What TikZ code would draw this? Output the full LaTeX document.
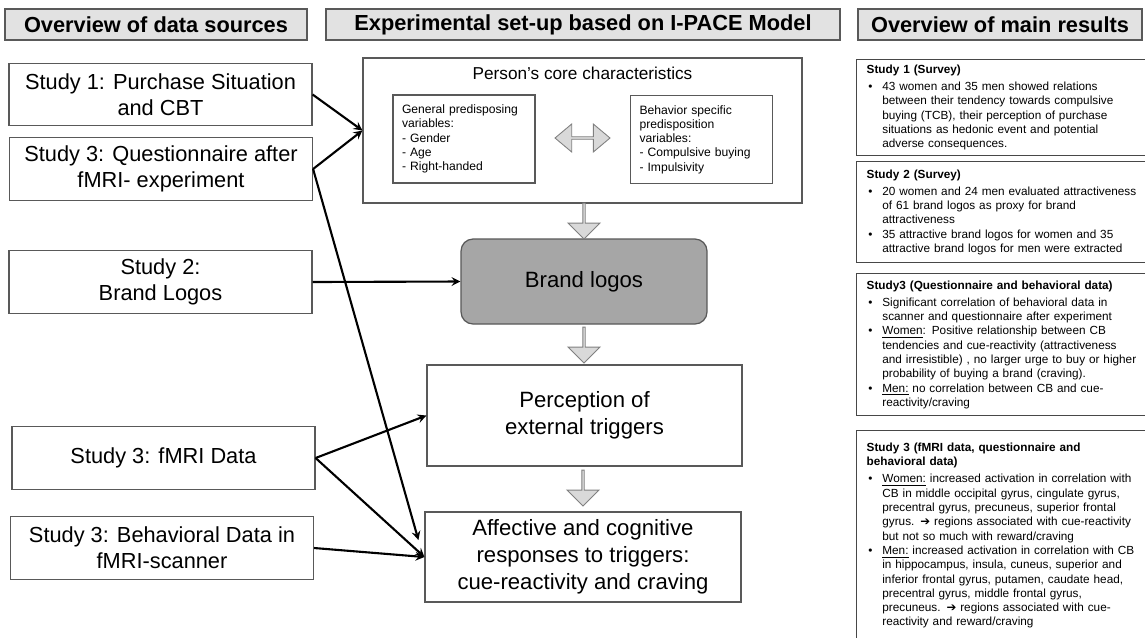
\documentclass[tikz,border=0pt]{standalone}
\usepackage{fontspec}
\setmainfont{Liberation Sans}
\newfontfamily\symfont{DejaVu Sans}
\usetikzlibrary{shapes.arrows}
\definecolor{headgray}{HTML}{E2E2E2}
\definecolor{linegray}{HTML}{595959}
\definecolor{arrowgray}{HTML}{D9D9D9}
\definecolor{logogray}{HTML}{A6A6A6}
\newcommand{\bul}{\makebox[1.33em][l]{\hspace{0.15em}\textbullet}}
\newcommand{\ind}{\hspace*{1.33em}}
\newcommand{\arr}{{\symfont\char"2794}}
\begin{document}
\begin{tikzpicture}[x=0.02cm, y=-0.02cm, >=stealth,
    headbox/.style={draw=linegray, fill=headgray, line width=0.7pt, minimum height=0.62cm, inner sep=0pt, font=\bfseries\fontsize{12.4}{14}\selectfont},
    srcbox/.style={draw=linegray, line width=0.7pt, minimum width=6.06cm, minimum height=1.25cm, align=center, inner sep=0pt, font=\fontsize{12.4}{14.8}\selectfont},
    stagebox/.style={draw=linegray, line width=0.7pt, align=center, inner sep=0pt, font=\fontsize{12.6}{15.3}\selectfont},
    varbox/.style={draw=linegray, line width=0.6pt, text width=2.48cm, inner xsep=0.18cm, inner ysep=0pt, minimum height=1.76cm, align=left, font=\fontsize{6.9}{8.1}\selectfont},
    resbox/.style={draw=linegray!80!black, line width=0.8pt, anchor=north west, text width=5.8cm, inner xsep=0.2cm, inner ysep=0pt, align=left, font=\fontsize{6.7}{8.15}\selectfont},
    downarrow/.style={single arrow, draw=gray, fill=arrowgray, line width=0.5pt, shape border rotate=270, minimum height=0.72cm, minimum width=0.64cm, single arrow head extend=0.11cm, inner sep=0pt},
    link/.style={->, line width=1.2pt}]
    \path[use as bounding box, fill=white] (0,0) rectangle (1145,637);
    \clip (0,0) rectangle (1145,637);

    % column heads
    \node[headbox, minimum width=6.04cm] (hsrc) at (156,24.5) {Overview of data sources};
    \node[headbox, minimum width=10.28cm] (hsetup) at (583,24.5) {Experimental set-up based on I-PACE Model};
    \node[headbox, minimum width=5.68cm] (hres) at (1000,24.5) {Overview of main results};

    % data sources
    \node[srcbox] (s1) at (160.5,94.5) {Study 1: Purchase Situation\\and CBT};
    \node[srcbox] (s3q) at (161,169) {Study 3: Questionnaire after\\fMRI- experiment};
    \node[srcbox] (s2) at (160.5,282) {Study 2:\\Brand Logos};
    \node[srcbox] (s3f) at (163.5,458) {Study 3: fMRI Data};
    \node[srcbox] (s3b) at (162,548) {Study 3: Behavioral Data in\\fMRI-scanner};

    % I-PACE set-up
    \node[stagebox, minimum width=8.78cm, minimum height=2.9cm] (core) at (582.5,130.5) {};
    \node[font=\fontsize{9.8}{11}\selectfont] (coretitle) at (582.5,73) {Person’s core characteristics};
    \node[varbox] (general) at (464,139) {General predisposing\\variables:\\- Gender\\- Age\\- Right-handed};
    \node[varbox] (specific) at (701.5,139.5) {Behavior specific\\predisposition\\variables:\\- Compulsive buying\\- Impulsivity};
    \node[double arrow, draw=gray, fill=arrowgray, line width=0.5pt, minimum height=1.1cm, minimum width=0.56cm, double arrow head extend=0.09cm, double arrow tip angle=80, inner sep=0pt] (bothways) at (582.5,138) {};
    \node[stagebox, fill=logogray, rounded corners=0.24cm, minimum width=4.92cm, minimum height=1.7cm] (brand) at (584,281.5) {Brand logos};
    \node[stagebox, minimum width=6.3cm, minimum height=2.02cm] (percep) at (584.5,415.5) {Perception of\\external triggers};
    \node[stagebox, minimum width=6.32cm, minimum height=1.8cm] (affect) at (583,557) {Affective and cognitive\\responses to triggers:\\cue-reactivity and craving};
    \node[downarrow] (d1) at (584,220.5) {};
    \node[downarrow] (d2) at (584,344.5) {};
    \node[downarrow] (d3) at (583,487.5) {};

    \draw[link] (s1.east) -- (core.west);
    \draw[link] (s3q.east) -- (core.west);
    \draw[link] (s3q.east) -- ([xshift=-1.2mm,yshift=3.4mm]affect.west);
    \draw[link] (s2.east) -- (brand.west);
    \draw[link] (s3f.east) -- (percep.west);
    \draw[link] (s3f.east) -- (affect.west);
    \draw[link] (s3b.east) -- (affect.west);

    % main results
    \node[resbox, minimum height=1.92cm] (r1) at (856,59) {\textbf{Study 1 (Survey)}\\[1.5pt]
        \bul 43 women and 35 men showed relations\\
        \ind between their tendency towards compulsive\\
        \ind buying (TCB), their perception of purchase\\
        \ind situations as hedonic event and potential\\
        \ind adverse consequences.};
    \node[resbox, minimum height=2.02cm] (r2) at (856,161) {\textbf{Study 2 (Survey)}\\[1.5pt]
        \bul 20 women and 24 men evaluated attractiveness\\
        \ind of 61 brand logos as proxy for brand\\
        \ind attractiveness\\
        \bul 35 attractive brand logos for women and 35\\
        \ind attractive brand logos for men were extracted};
    \node[resbox, minimum height=2.84cm] (r3) at (856,273) {\textbf{Study3 (Questionnaire and behavioral data)}\\[1.5pt]
        \bul Significant correlation of behavioral data in\\
        \ind scanner and questionnaire after experiment\\
        \bul \underline{Women}: Positive relationship between CB\\
        \ind tendencies and cue-reactivity (attractiveness\\
        \ind and irresistible) , no larger urge to buy or higher\\
        \ind probability of buying a brand (craving).\\
        \bul \underline{Men:} no correlation between CB and cue-\\
        \ind reactivity/craving};
    \node[resbox, minimum height=4.2cm] (r4) at (856,430) {\textbf{Study 3 (fMRI data, questionnaire and}\\
        \textbf{behavioral data)}\\[1.5pt]
        \bul \underline{Women:} increased activation in correlation with\\
        \ind CB in middle occipital gyrus, cingulate gyrus,\\
        \ind precentral gyrus, precuneus, superior frontal\\
        \ind gyrus. \arr{} regions associated with cue-reactivity\\
        \ind but not so much with reward/craving\\
        \bul \underline{Men:} increased activation in correlation with CB\\
        \ind in hippocampus, insula, cuneus, superior and\\
        \ind inferior frontal gyrus, putamen, caudate head,\\
        \ind precentral gyrus, middle frontal gyrus,\\
        \ind precuneus. \arr{} regions associated with cue-\\
        \ind reactivity and reward/craving};
\end{tikzpicture}
\end{document}
